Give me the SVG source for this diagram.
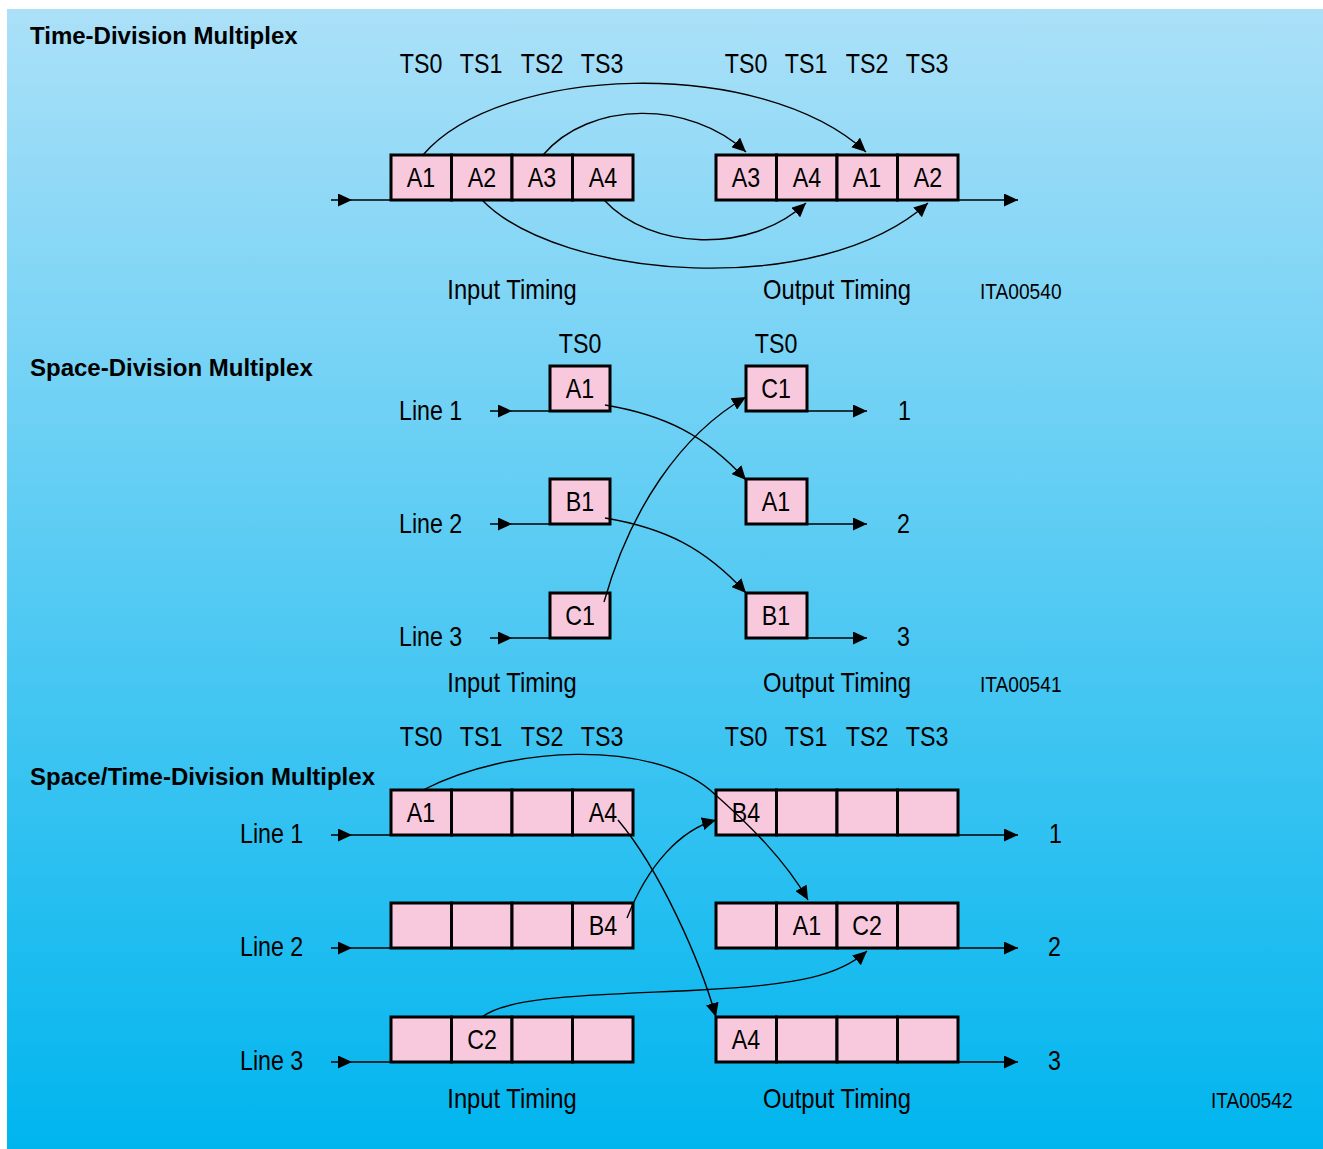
<svg xmlns="http://www.w3.org/2000/svg" width="1323" height="1149" viewBox="0 0 1323 1149">
<defs>
<linearGradient id="bg" x1="0" y1="0" x2="0" y2="1">
<stop offset="0" stop-color="#abe0f8"/>
<stop offset="1" stop-color="#00b5ee"/>
</linearGradient>
<marker id="ah" viewBox="0 0 14 13" refX="14" refY="6.5" markerWidth="14" markerHeight="13" markerUnits="userSpaceOnUse" orient="auto">
<path d="M0,0 L14,6.5 L0,13 Z" fill="#000"/>
</marker>
</defs>
<style>
.cell{fill:#f8c9dd;stroke:#000;stroke-width:3}
.ln{fill:none;stroke:#000;stroke-width:1.4}
.t{font-family:"Liberation Sans",Arial,sans-serif;font-size:27px;fill:#000}
.c{text-anchor:middle}
.id{font-family:"Liberation Sans",Arial,sans-serif;font-size:22px;fill:#000}
.h{font-family:"Liberation Sans",Arial,sans-serif;font-size:24px;font-weight:bold;fill:#000}
</style>
<rect x="7" y="9" width="1316" height="1140" fill="url(#bg)"/>

<!-- Section 1: Time-Division Multiplex -->
<g id="tdm-title"><text class="h" x="30" y="44">Time-Division Multiplex</text></g>
<g id="tdm-ts-in" class="t c">
<text transform="matrix(.86 0 0 1 421 0)" x="0" y="73">TS0</text><text transform="matrix(.86 0 0 1 481 0)" x="0" y="73">TS1</text><text transform="matrix(.86 0 0 1 542 0)" x="0" y="73">TS2</text><text transform="matrix(.86 0 0 1 602 0)" x="0" y="73">TS3</text>
</g>
<g id="tdm-ts-out" class="t c">
<text transform="matrix(.86 0 0 1 746 0)" x="0" y="73">TS0</text><text transform="matrix(.86 0 0 1 806 0)" x="0" y="73">TS1</text><text transform="matrix(.86 0 0 1 867 0)" x="0" y="73">TS2</text><text transform="matrix(.86 0 0 1 927 0)" x="0" y="73">TS3</text>
</g>
<g id="tdm-input">
<rect class="cell" x="391" y="155" width="60.5" height="45"/><rect class="cell" x="451.5" y="155" width="60.5" height="45"/><rect class="cell" x="512" y="155" width="60.5" height="45"/><rect class="cell" x="572.5" y="155" width="60.5" height="45"/>
<g class="t c"><text transform="matrix(.86 0 0 1 421 0)" x="0" y="187">A1</text><text transform="matrix(.86 0 0 1 482 0)" x="0" y="187">A2</text><text transform="matrix(.86 0 0 1 542 0)" x="0" y="187">A3</text><text transform="matrix(.86 0 0 1 603 0)" x="0" y="187">A4</text></g>
</g>
<g id="tdm-output">
<rect class="cell" x="716" y="155" width="60.5" height="45"/><rect class="cell" x="776.5" y="155" width="60.5" height="45"/><rect class="cell" x="837" y="155" width="60.5" height="45"/><rect class="cell" x="897.5" y="155" width="60.5" height="45"/>
<g class="t c"><text transform="matrix(.86 0 0 1 746 0)" x="0" y="187">A3</text><text transform="matrix(.86 0 0 1 807 0)" x="0" y="187">A4</text><text transform="matrix(.86 0 0 1 867 0)" x="0" y="187">A1</text><text transform="matrix(.86 0 0 1 928 0)" x="0" y="187">A2</text></g>
</g>
<g id="tdm-labels">
<text class="t c" transform="matrix(.88 0 0 1 512 0)" x="0" y="299">Input Timing</text>
<text class="t c" transform="matrix(.88 0 0 1 837 0)" x="0" y="299">Output Timing</text>
<text class="id" transform="matrix(.87 0 0 1 980 0)" x="0" y="299">ITA00540</text>
</g>

<!-- Section 2: Space-Division Multiplex -->
<g id="sdm-title"><text class="h" x="30" y="376">Space-Division Multiplex</text></g>
<g id="sdm-ts" class="t c"><text transform="matrix(.86 0 0 1 580 0)" x="0" y="353">TS0</text><text transform="matrix(.86 0 0 1 776 0)" x="0" y="353">TS0</text></g>
<g id="sdm-lines" class="t"><text transform="matrix(.86 0 0 1 399 0)" x="0" y="420">Line 1</text><text transform="matrix(.86 0 0 1 399 0)" x="0" y="533">Line 2</text><text transform="matrix(.86 0 0 1 399 0)" x="0" y="646">Line 3</text></g>
<g id="sdm-in-a1"><rect class="cell" x="550" y="366" width="60" height="45"/><text class="t c" transform="matrix(.86 0 0 1 580 0)" x="0" y="398">A1</text></g>
<g id="sdm-in-b1"><rect class="cell" x="550" y="479" width="60" height="45"/><text class="t c" transform="matrix(.86 0 0 1 580 0)" x="0" y="511">B1</text></g>
<g id="sdm-in-c1"><rect class="cell" x="550" y="593" width="60" height="45"/><text class="t c" transform="matrix(.86 0 0 1 580 0)" x="0" y="625">C1</text></g>
<g id="sdm-out-c1"><rect class="cell" x="746" y="366" width="61" height="45"/><text class="t c" transform="matrix(.86 0 0 1 776 0)" x="0" y="398">C1</text></g>
<g id="sdm-out-a1"><rect class="cell" x="746" y="479" width="61" height="45"/><text class="t c" transform="matrix(.86 0 0 1 776 0)" x="0" y="511">A1</text></g>
<g id="sdm-out-b1"><rect class="cell" x="746" y="593" width="61" height="45"/><text class="t c" transform="matrix(.86 0 0 1 776 0)" x="0" y="625">B1</text></g>
<g id="sdm-nums" class="t"><text transform="matrix(.86 0 0 1 898 0)" x="0" y="420">1</text><text transform="matrix(.86 0 0 1 897 0)" x="0" y="533">2</text><text transform="matrix(.86 0 0 1 897 0)" x="0" y="646">3</text></g>
<g id="sdm-labels">
<text class="t c" transform="matrix(.88 0 0 1 512 0)" x="0" y="692">Input Timing</text>
<text class="t c" transform="matrix(.88 0 0 1 837 0)" x="0" y="692">Output Timing</text>
<text class="id" transform="matrix(.87 0 0 1 980 0)" x="0" y="692">ITA00541</text>
</g>

<!-- Section 3: Space/Time-Division Multiplex -->
<g id="stdm-title"><text class="h" x="30" y="785">Space/Time-Division Multiplex</text></g>
<g id="stdm-ts-in" class="t c">
<text transform="matrix(.86 0 0 1 421 0)" x="0" y="746">TS0</text><text transform="matrix(.86 0 0 1 481 0)" x="0" y="746">TS1</text><text transform="matrix(.86 0 0 1 542 0)" x="0" y="746">TS2</text><text transform="matrix(.86 0 0 1 602 0)" x="0" y="746">TS3</text>
</g>
<g id="stdm-ts-out" class="t c">
<text transform="matrix(.86 0 0 1 746 0)" x="0" y="746">TS0</text><text transform="matrix(.86 0 0 1 806 0)" x="0" y="746">TS1</text><text transform="matrix(.86 0 0 1 867 0)" x="0" y="746">TS2</text><text transform="matrix(.86 0 0 1 927 0)" x="0" y="746">TS3</text>
</g>
<g id="stdm-lines" class="t"><text transform="matrix(.86 0 0 1 240 0)" x="0" y="843">Line 1</text><text transform="matrix(.86 0 0 1 240 0)" x="0" y="956">Line 2</text><text transform="matrix(.86 0 0 1 240 0)" x="0" y="1070">Line 3</text></g>
<g id="stdm-in-1">
<rect class="cell" x="391" y="790" width="60.5" height="45"/><rect class="cell" x="451.5" y="790" width="60.5" height="45"/><rect class="cell" x="512" y="790" width="60.5" height="45"/><rect class="cell" x="572.5" y="790" width="60.5" height="45"/>
<g class="t c"><text transform="matrix(.86 0 0 1 421 0)" x="0" y="822">A1</text><text transform="matrix(.86 0 0 1 603 0)" x="0" y="822">A4</text></g>
</g>
<g id="stdm-in-2">
<rect class="cell" x="391" y="903" width="60.5" height="45"/><rect class="cell" x="451.5" y="903" width="60.5" height="45"/><rect class="cell" x="512" y="903" width="60.5" height="45"/><rect class="cell" x="572.5" y="903" width="60.5" height="45"/>
<g class="t c"><text transform="matrix(.86 0 0 1 603 0)" x="0" y="935">B4</text></g>
</g>
<g id="stdm-in-3">
<rect class="cell" x="391" y="1017" width="60.5" height="45"/><rect class="cell" x="451.5" y="1017" width="60.5" height="45"/><rect class="cell" x="512" y="1017" width="60.5" height="45"/><rect class="cell" x="572.5" y="1017" width="60.5" height="45"/>
<g class="t c"><text transform="matrix(.86 0 0 1 482 0)" x="0" y="1049">C2</text></g>
</g>
<g id="stdm-out-1">
<rect class="cell" x="716" y="790" width="60.5" height="45"/><rect class="cell" x="776.5" y="790" width="60.5" height="45"/><rect class="cell" x="837" y="790" width="60.5" height="45"/><rect class="cell" x="897.5" y="790" width="60.5" height="45"/>
<g class="t c"><text transform="matrix(.86 0 0 1 746 0)" x="0" y="822">B4</text></g>
</g>
<g id="stdm-out-2">
<rect class="cell" x="716" y="903" width="60.5" height="45"/><rect class="cell" x="776.5" y="903" width="60.5" height="45"/><rect class="cell" x="837" y="903" width="60.5" height="45"/><rect class="cell" x="897.5" y="903" width="60.5" height="45"/>
<g class="t c"><text transform="matrix(.86 0 0 1 807 0)" x="0" y="935">A1</text><text transform="matrix(.86 0 0 1 867 0)" x="0" y="935">C2</text></g>
</g>
<g id="stdm-out-3">
<rect class="cell" x="716" y="1017" width="60.5" height="45"/><rect class="cell" x="776.5" y="1017" width="60.5" height="45"/><rect class="cell" x="837" y="1017" width="60.5" height="45"/><rect class="cell" x="897.5" y="1017" width="60.5" height="45"/>
<g class="t c"><text transform="matrix(.86 0 0 1 746 0)" x="0" y="1049">A4</text></g>
</g>
<g id="stdm-nums" class="t"><text transform="matrix(.86 0 0 1 1049 0)" x="0" y="843">1</text><text transform="matrix(.86 0 0 1 1048 0)" x="0" y="956">2</text><text transform="matrix(.86 0 0 1 1048 0)" x="0" y="1070">3</text></g>
<g id="stdm-labels">
<text class="t c" transform="matrix(.88 0 0 1 512 0)" x="0" y="1108">Input Timing</text>
<text class="t c" transform="matrix(.88 0 0 1 837 0)" x="0" y="1108">Output Timing</text>
<text class="id" transform="matrix(.87 0 0 1 1211 0)" x="0" y="1108">ITA00542</text>
</g>

<!-- Connectors -->
<g id="connectors" class="ln">
<!-- TDM -->
<path d="M331,200 L352,200 L391,200" marker-mid="url(#ah)"/>
<path d="M958,200 L1018,200" marker-end="url(#ah)"/>
<path d="M423,155 C500,65 760,55 866,152" marker-end="url(#ah)"/>
<path d="M543,155 C590,100 690,100 746,152" marker-end="url(#ah)"/>
<path d="M482,200 C560,280 820,300 928,203" marker-end="url(#ah)"/>
<path d="M604,200 C650,250 750,255 806,203" marker-end="url(#ah)"/>
<!-- SDM -->
<path d="M490,411 L512,411 L550,411" marker-mid="url(#ah)"/>
<path d="M490,524 L512,524 L550,524" marker-mid="url(#ah)"/>
<path d="M490,638 L512,638 L550,638" marker-mid="url(#ah)"/>
<path d="M807,411 L867,411" marker-end="url(#ah)"/>
<path d="M807,524 L867,524" marker-end="url(#ah)"/>
<path d="M807,638 L867,638" marker-end="url(#ah)"/>
<path d="M605,405 C665,415 705,435 746,480" marker-end="url(#ah)"/>
<path d="M605,518 C665,528 705,548 746,593" marker-end="url(#ah)"/>
<path d="M604,602 C630,510 680,435 746,397" marker-end="url(#ah)"/>
<!-- STDM -->
<path d="M331,835 L352,835 L391,835" marker-mid="url(#ah)"/>
<path d="M331,948 L352,948 L391,948" marker-mid="url(#ah)"/>
<path d="M331,1062 L352,1062 L391,1062" marker-mid="url(#ah)"/>
<path d="M958,835 L1018,835" marker-end="url(#ah)"/>
<path d="M958,948 L1018,948" marker-end="url(#ah)"/>
<path d="M958,1062 L1018,1062" marker-end="url(#ah)"/>
<path d="M423,790 C510,745 650,740 710,790 C750,825 785,860 808,900" marker-end="url(#ah)"/>
<path d="M618,820 C660,870 700,960 716,1017" marker-end="url(#ah)"/>
<path d="M627,918 C648,865 680,830 716,820" marker-end="url(#ah)"/>
<path d="M482,1017 C510,995 600,995 700,990 C800,985 840,975 867,951" marker-end="url(#ah)"/>
</g>
</svg>
